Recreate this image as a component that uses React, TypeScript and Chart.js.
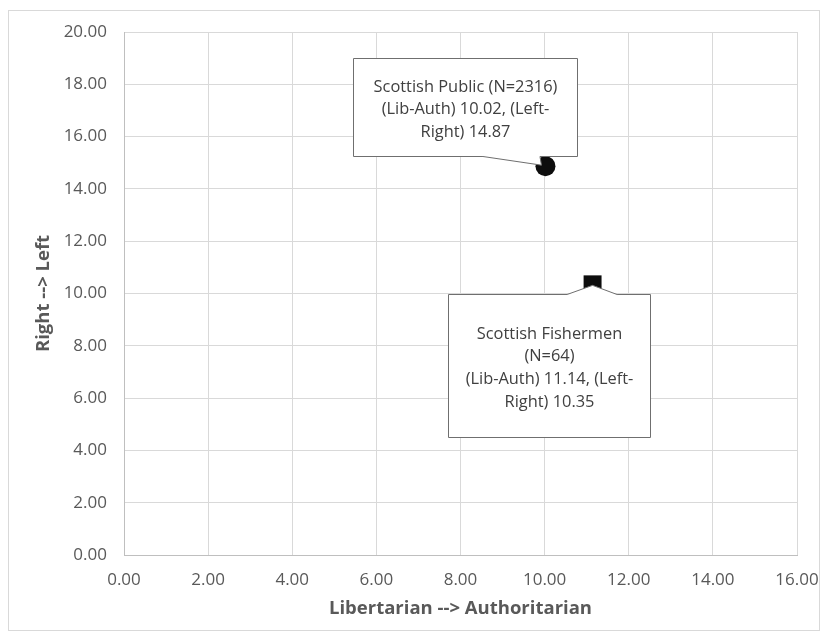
import React, { useEffect, useRef } from "react";
import { Chart, registerables } from "chart.js";

Chart.register(...registerables);

// ---- data ----
const groupNames = ["Scottish Public", "Scottish Fishermen"];
const sampleSizes = [2316, 64];
const libAuth = [10.02, 11.14];
const leftRight = [14.87, 10.35];
const pointStyles = ["circle", "rect"];
const xTicksMax = 16;
const yTicksMax = 20;
const xTitle = "Libertarian --> Authoritarian";
const yTitle = "Right --> Left";

const FONT = "'Open Sans', sans-serif";
const TEXT = "#595959";

const calloutLines = [
  [`${groupNames[0]} (N=${sampleSizes[0]})`, `(Lib-Auth) ${libAuth[0].toFixed(2)}, (Left-`, `Right) ${leftRight[0].toFixed(2)}`],
  [`${groupNames[1]}`, `(N=${sampleSizes[1]})`, `(Lib-Auth) ${libAuth[1].toFixed(2)}, (Left-`, `Right) ${leftRight[1].toFixed(2)}`],
];

// callout geometry, offsets relative to the marker (pixels)
const calloutGeom = [
  { l: -192.5, r: 31.5, t: -108, b: -10.5, side: "bottom", b1: -62.5, b2: -5.5, tipX: -4, tipY: -1 },
  { l: -144.5, r: 57.5, t: 10, b: 153, side: "top", b1: -25.5, b2: 24.5, tipX: 0, tipY: 1 },
];

const borderPlugin = {
  id: "outerBorder",
  beforeDraw(chart: any) {
    const ctx = chart.ctx;
    ctx.save();
    ctx.fillStyle = "#ffffff";
    ctx.fillRect(0, 0, chart.width, chart.height);
    ctx.strokeStyle = "#d9d9d9";
    ctx.lineWidth = 1;
    ctx.strokeRect(8.5, 10.5, 811, 620);
    ctx.restore();
  },
};

const calloutPlugin = {
  id: "callouts",
  afterDatasetsDraw(chart: any) {
    const ctx = chart.ctx;
    chart.data.datasets.forEach((ds: any, i: number) => {
      const el = chart.getDatasetMeta(i).data[0];
      if (!el) return;
      const px = el.x, py = el.y;
      const g = calloutGeom[i];
      const L = Math.round(px + g.l) + 0.5, R = Math.round(px + g.r) + 0.5;
      const T = Math.round(py + g.t) + 0.5, B = Math.round(py + g.b) + 0.5;
      const tx = px + g.tipX, ty = py + g.tipY;
      ctx.save();
      ctx.beginPath();
      ctx.moveTo(L, T);
      if (g.side === "top") {
        ctx.lineTo(px + g.b1, T);
        ctx.lineTo(tx, ty);
        ctx.lineTo(px + g.b2, T);
      }
      ctx.lineTo(R, T);
      ctx.lineTo(R, B);
      if (g.side === "bottom") {
        ctx.lineTo(px + g.b2, B);
        ctx.lineTo(tx, ty);
        ctx.lineTo(px + g.b1, B);
      }
      ctx.lineTo(L, B);
      ctx.closePath();
      ctx.fillStyle = "#ffffff";
      ctx.fill();
      ctx.strokeStyle = "#6f6f6f";
      ctx.lineWidth = 1;
      ctx.stroke();
      const lines = calloutLines[i];
      const lh = 22.6;
      ctx.fillStyle = "#404040";
      ctx.font = `16.4px ${FONT}`;
      ctx.textAlign = "center";
      ctx.textBaseline = "middle";
      const cx = (L + R) / 2;
      const cy = (T + B) / 2 + 2;
      const start = cy - ((lines.length - 1) * lh) / 2;
      lines.forEach((s: string, k: number) => ctx.fillText(s, cx, start + k * lh));
      ctx.restore();
    });
  },
};

export default function App() {
  const ref = useRef<HTMLCanvasElement>(null);
  useEffect(() => {
    if (!ref.current) return;
    const chart = new Chart(ref.current, {
      type: "scatter",
      data: {
        datasets: groupNames.map((name, i) => ({
          label: name,
          data: [{ x: libAuth[i], y: leftRight[i] }],
          pointStyle: pointStyles[i] as any,
          pointRadius: i === 0 ? 10 : 12.7,
          backgroundColor: "#0d0d0d",
          borderColor: "#0d0d0d",
          borderWidth: 0,
        })),
      },
      plugins: [borderPlugin, calloutPlugin],
      options: {
        responsive: false,
        animation: false,
        devicePixelRatio: 1,
        layout: { padding: { top: 32, right: 30, left: 0, bottom: 0 } },
        plugins: { legend: { display: false }, tooltip: { enabled: false } },
        scales: {
          x: {
            type: "linear",
            min: 0,
            max: xTicksMax,
            ticks: {
              stepSize: 2,
              color: TEXT,
              font: { family: FONT, size: 17 },
              padding: 15,
              callback: (v: any) => Number(v).toFixed(2),
            },
            grid: { color: "#d9d9d9", drawTicks: false },
            border: { color: "#bfbfbf" },
            title: {
              display: true,
              text: xTitle,
              color: TEXT,
              font: { family: FONT, size: 18.5, weight: "bold" },
              padding: { top: 0, bottom: 20 },
            },
            afterFit: (s: any) => {
              s.height = 85;
              s.paddingLeft = 0;
              s.paddingRight = 0;
            },
          },
          y: {
            type: "linear",
            min: 0,
            max: yTicksMax,
            ticks: {
              stepSize: 2,
              color: TEXT,
              font: { family: FONT, size: 17 },
              padding: 17,
              callback: (v: any) => Number(v).toFixed(2),
            },
            grid: { color: "#d9d9d9", drawTicks: false },
            border: { color: "#bfbfbf" },
            title: {
              display: true,
              text: yTitle,
              color: TEXT,
              font: { family: FONT, size: 18.5, weight: "bold" },
              padding: { top: 33, bottom: 0 },
            },
            afterFit: (s: any) => {
              s.width = 124;
              s.paddingTop = 0;
              s.paddingBottom = 0;
            },
          },
        },
      },
    } as any);
    return () => chart.destroy();
  }, []);
  return (
    <div style={{ position: "absolute", left: 0, top: 0, width: 827, height: 640 }}>
      <canvas ref={ref} width={827} height={640} style={{ display: "block" }} />
    </div>
  );
}
